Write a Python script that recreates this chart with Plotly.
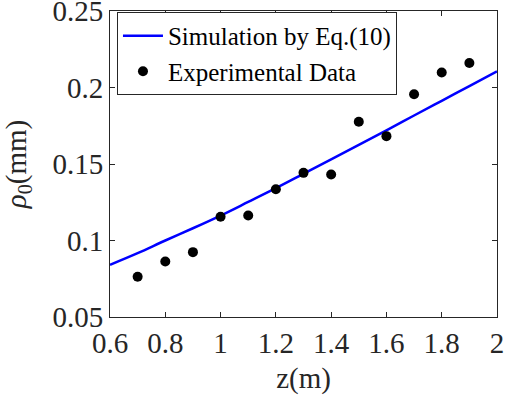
import plotly.graph_objects as go

# Simulation curve
sim_z = [0.6, 0.7, 0.8, 0.9, 1.0, 1.1, 1.2, 1.3, 1.4, 1.5, 1.6, 1.7, 1.8, 1.9, 2.0]
sim_rho = [0.0841, 0.0917, 0.1000, 0.1080, 0.1163, 0.1252, 0.1342, 0.1436, 0.1530, 0.1625, 0.1720, 0.1817, 0.1913, 0.2009, 0.2105]

# Experimental data
exp_z = [0.7, 0.8, 0.9, 1.0, 1.1, 1.2, 1.3, 1.4, 1.5, 1.6, 1.7, 1.8, 1.9]
exp_rho = [0.0763, 0.0863, 0.0924, 0.1155, 0.1163, 0.1335, 0.1442, 0.1431, 0.1776, 0.1682, 0.1956, 0.2098, 0.2160]

x_ticks = [0.6, 0.8, 1.0, 1.2, 1.4, 1.6, 1.8, 2.0]
x_tick_labels = ["0.6", "0.8", "1", "1.2", "1.4", "1.6", "1.8", "2"]
y_ticks = [0.05, 0.1, 0.15, 0.2, 0.25]
y_tick_labels = ["0.05", "0.1", "0.15", "0.2", "0.25"]

font_family = "Liberation Serif, Times New Roman, serif"

fig = go.Figure()
fig.add_trace(go.Scatter(
    x=sim_z, y=sim_rho, mode="lines", name="Simulation by Eq.(10)",
    line=dict(color="#0000ff", width=2.5, shape="spline"),
))
fig.add_trace(go.Scatter(
    x=exp_z, y=exp_rho, mode="markers", name="Experimental Data",
    marker=dict(color="black", size=10),
))

axis_common = dict(
    showline=True, linecolor="#262626", linewidth=1, mirror="ticks",
    ticks="inside", ticklen=5, tickcolor="#262626", showgrid=False, zeroline=False,
    automargin=False, ticklabeloverflow="allow",
    tickfont=dict(family=font_family, size=29, color="#262626"),
)

fig.update_layout(
    width=505, height=398,
    margin=dict(l=110, r=8, t=11, b=81),
    paper_bgcolor="white", plot_bgcolor="white",
    font=dict(family=font_family, color="#262626"),
    showlegend=True,
    legend=dict(
        x=0.018, y=0.997, xanchor="left", yanchor="top",
        bgcolor="white", bordercolor="#262626", borderwidth=1,
        font=dict(family=font_family, size=25, color="black"),
        tracegroupgap=0, itemwidth=40,
    ),
    xaxis=dict(
        range=[0.6, 2.0000001], tickvals=x_ticks, ticktext=x_tick_labels,
        title=dict(text="z(m)", font=dict(family=font_family, size=29, color="#262626"), standoff=9),
        **axis_common,
    ),
    yaxis=dict(
        range=[0.0499999, 0.2500001], tickvals=y_ticks, ticktext=y_tick_labels,
        title=dict(text="<i>ρ</i><sub>0</sub>(mm)", font=dict(family=font_family, size=29, color="#262626"), standoff=24),
        **axis_common,
    ),
)

fig.write_html("out.html", config={"displayModeBar": False},
               post_script="document.body.style.margin='0';")
